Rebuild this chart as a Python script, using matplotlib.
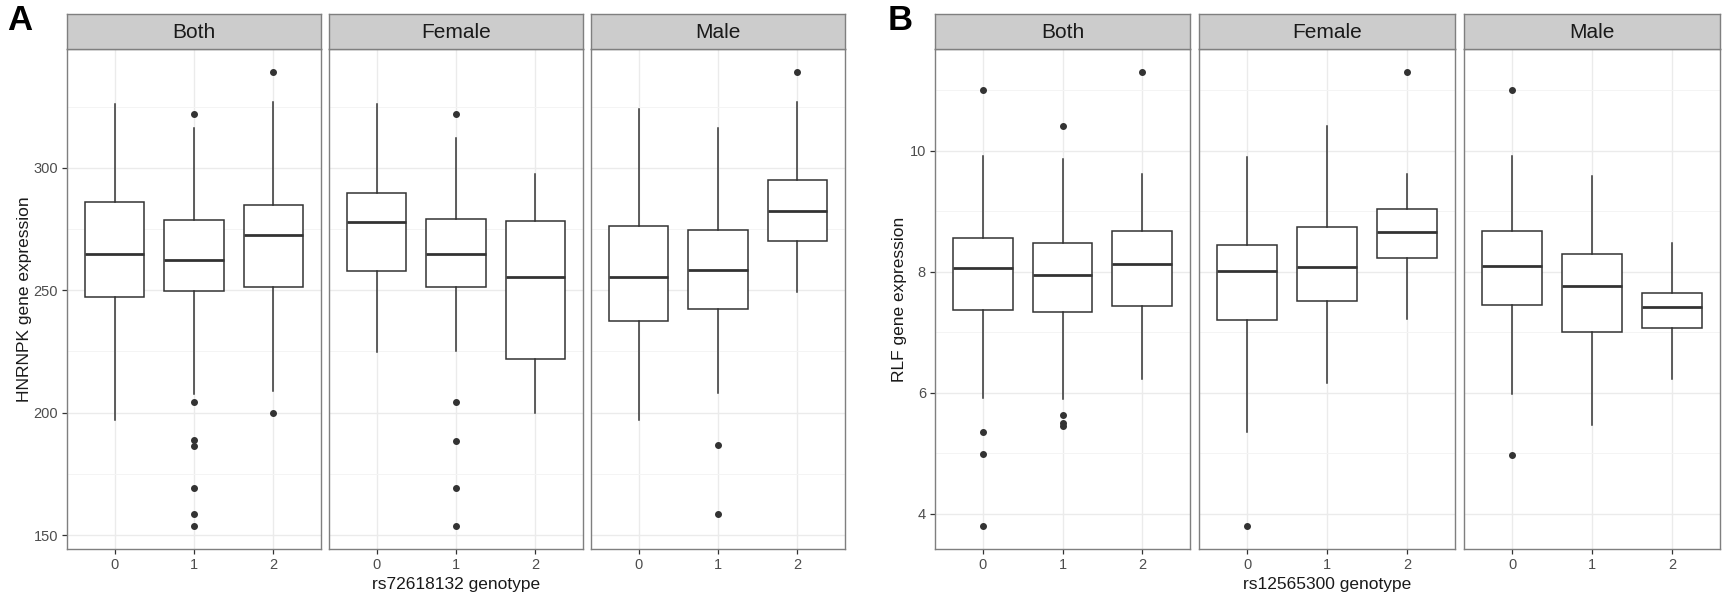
"""
HNRNPK / RLF expression by genotype, faceted by sex (two-panel figure).
"""

import numpy as np
import matplotlib
matplotlib.use("Agg")
import matplotlib.pyplot as plt
from matplotlib.ticker import MultipleLocator

plt.rcParams["font.family"] = ["Liberation Sans", "DejaVu Sans"]

facets = ["Both", "Female", "Male"]
genotypes = ["0", "1", "2"]

# panel A: HNRNPK, rows = facets, cols = genotype 0/1/2
hn_q1 = [[247.2, 249.8, 251.3], [257.8, 251.3, 222.0], [237.5, 242.3, 270.0]]
hn_med = [[264.8, 262.3, 272.5], [278.0, 264.8, 255.5], [255.3, 258.4, 282.5]]
hn_q3 = [[286.0, 278.7, 284.9], [289.9, 279.1, 278.2], [276.1, 274.7, 295.2]]
hn_lo = [[196.9, 207.6, 208.7], [224.6, 225.3, 199.9], [197.0, 208.0, 249.4]]
hn_hi = [[326.1, 316.2, 326.8], [326.1, 312.1, 297.7], [324.1, 316.3, 327.0]]
hn_out = [
    [[], [321.9, 204.4, 188.7, 186.2, 169.1, 158.4, 153.7], [339.1, 199.9]],
    [[], [321.9, 204.4, 188.6, 169.1, 153.7], []],
    [[], [186.6, 158.6], [339.2]],
]

# panel B: RLF
rl_q1 = [[7.37, 7.33, 7.43], [7.20, 7.52, 8.22], [7.45, 7.01, 7.07]]
rl_med = [[8.06, 7.95, 8.12], [8.01, 8.08, 8.65], [8.09, 7.76, 7.41]]
rl_q3 = [[8.55, 8.48, 8.68], [8.45, 8.74, 9.03], [8.67, 8.29, 7.65]]
rl_lo = [[5.91, 5.90, 6.23], [5.36, 6.17, 7.22], [5.98, 5.47, 6.23]]
rl_hi = [[9.91, 9.86, 9.62], [9.90, 10.41, 9.62], [9.92, 9.59, 8.47]]
rl_out = [
    [[11.0, 5.35, 4.99, 3.80], [10.40, 5.63, 5.50, 5.46], [11.30]],
    [[3.80], [], [11.30]],
    [[11.0, 4.98], [], []],
]

W, H = 1726, 600
DARK = "#333333"
BORDER = "#7F7F7F"


def px_axes(fig, x0, x1, y0, y1, **kw):
    # pixel box (top-left origin) -> figure axes
    return fig.add_axes([x0 / W, 1 - y1 / H, (x1 - x0) / W, (y1 - y0) / H], **kw)


def draw_panel(fig, xs, q1, med, q3, lo, hi, out, ylim, major, yticks,
               ylabel, ylabel_x, xlabel, letter, letter_x):
    for i, (x0, x1) in enumerate(xs):
        ax = px_axes(fig, x0, x1, 49, 549)
        stats = []
        for g in range(3):
            stats.append(dict(med=med[i][g], q1=q1[i][g], q3=q3[i][g],
                              whislo=lo[i][g], whishi=hi[i][g],
                              fliers=out[i][g], label=genotypes[g]))
        ax.bxp(stats, positions=[0, 1, 2], widths=0.75, showcaps=False,
               patch_artist=True,
               boxprops=dict(facecolor="white", edgecolor=DARK, lw=1.1),
               whiskerprops=dict(color=DARK, lw=1.1),
               medianprops=dict(color=DARK, lw=2.0),
               flierprops=dict(marker="o", markersize=4.0, markerfacecolor=DARK,
                               markeredgecolor=DARK))
        ax.set_xlim(-0.6, 2.6)
        ax.set_ylim(*ylim)
        ax.yaxis.set_major_locator(MultipleLocator(major))
        ax.yaxis.set_minor_locator(MultipleLocator(major / 2))
        ax.set_yticks(yticks)
        ax.grid(True, which="major", color="#EBEBEB", lw=1.0)
        ax.grid(True, which="minor", axis="y", color="#F4F4F4", lw=0.7)
        ax.set_axisbelow(True)
        ax.tick_params(axis="both", which="major", length=3.5, width=0.9,
                       color=DARK, labelsize=10.5, labelcolor="#4D4D4D", pad=3)
        ax.tick_params(axis="y", which="minor", length=0)
        if i > 0:
            ax.tick_params(axis="y", which="major", length=0, labelleft=False)
        for s in ax.spines.values():
            s.set_color(BORDER)
            s.set_linewidth(1.0)

        # facet strip
        st = px_axes(fig, x0, x1, 14, 49, facecolor="#CCCCCC")
        st.set_xticks([]); st.set_yticks([])
        for s in st.spines.values():
            s.set_color(BORDER)
            s.set_linewidth(1.0)
        st.text(0.5, 0.47, facets[i], ha="center", va="center",
                fontsize=15, color="#1A1A1A", transform=st.transAxes)

    fig.text(ylabel_x / W, 1 - 299 / H, ylabel, rotation=90, ha="center",
             va="center", fontsize=12.5, color="#1A1A1A")
    mid = (xs[1][0] + xs[1][1]) / 2
    fig.text(mid / W, 1 - 584 / H, xlabel, ha="center", va="center",
             fontsize=12.5, color="#1A1A1A")
    fig.text(letter_x / W, 1 - 21 / H, letter, ha="center", va="center",
             fontsize=25, fontweight="bold", color="black")


fig = plt.figure(figsize=(W / 100, H / 100), dpi=100)

xs_a = [(67, 321), (329, 583), (591, 845)]
xs_b = [(935, 1190), (1199, 1455), (1464, 1720)]

draw_panel(fig, xs_a, hn_q1, hn_med, hn_q3, hn_lo, hn_hi, hn_out,
           (144.3, 348.6), 50, [150, 200, 250, 300],
           "HNRNPK gene expression", 25, "rs72618132 genotype", "A", 20)
draw_panel(fig, xs_b, rl_q1, rl_med, rl_q3, rl_lo, rl_hi, rl_out,
           (3.42, 11.68), 2, [4, 6, 8, 10],
           "RLF gene expression", 899, "rs12565300 genotype", "B", 900)

fig.savefig("out.png", dpi=100)
